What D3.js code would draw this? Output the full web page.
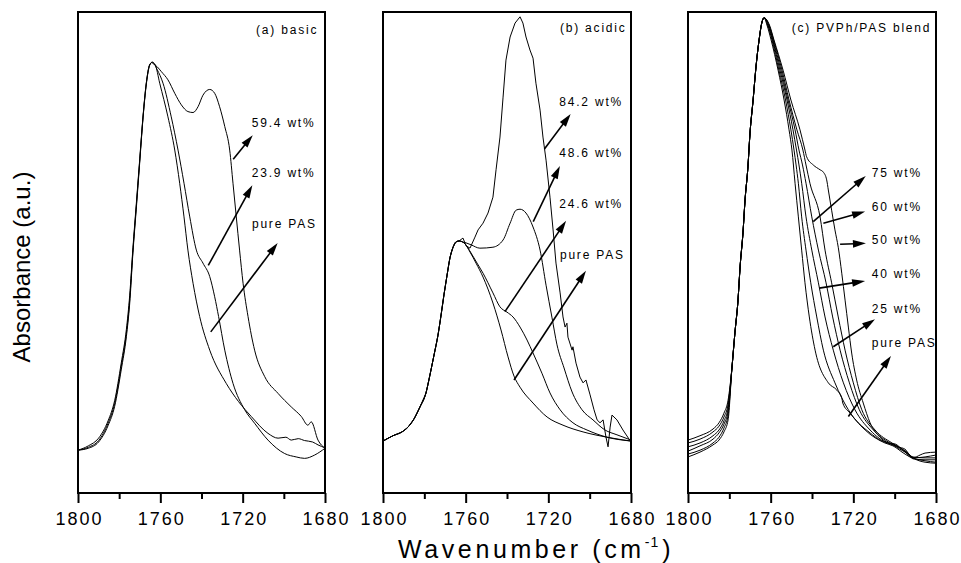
<!DOCTYPE html>
<html lang="en">
<head>
<meta charset="UTF-8">
<title>FTIR carbonyl region</title>
<script src="https://d3js.org/d3.v7.min.js"></script>
<style>
  body { margin: 0; background: #fff; }
  svg { display: block; font-family: "Liberation Sans", Arial, sans-serif; }
  .frame { fill: none; stroke: #000; stroke-width: 2; }
  .spec { fill: none; stroke: #000; stroke-width: 1; }
  .axis line { stroke: #000; stroke-width: 2; }
  .axis text { font-size: 18px; letter-spacing: 2px; fill: #000; font-family: "Liberation Sans", Arial, sans-serif; }
  .note { font-size: 12px; letter-spacing: 1.8px; fill: #000; }
  .arrow { stroke: #000; stroke-width: 1.6; }
</style>
</head>
<body>
<svg width="961" height="563"></svg>
<script>
// wavenumber ticks
const wnTicks = [1800, 1760, 1720, 1680];
const wnMinor = [1780, 1740, 1700];

const panelTitles = ["(a) basic", "(b) acidic", "(c) PVPh/PAS blend"];
const aNotes = ["59.4 wt%", "23.9 wt%", "pure PAS"];
const bNotes = ["84.2 wt%", "48.6 wt%", "24.6 wt%", "pure PAS"];
const cNotes = ["75 wt%", "60 wt%", "50 wt%", "40 wt%", "25 wt%", "pure PAS"];

// (a) basic  [wavenumber, absorbance a.u.]
const aPure = [[1800,8.9],[1795,9.8],[1790,11.4],[1785.4,15.0],[1782.2,19.2],[1779,27.0],[1776.5,34.0],[1774.9,41.0],[1773.3,51.0],[1771.7,60.0],[1770,69.5],[1768.4,78.4],[1766.8,85.3],[1765.2,89.0],[1764,89.5],[1762.5,89.0],[1760.3,85.2],[1756.3,78.2],[1753,71.3],[1750.6,64.4],[1748.5,57.4],[1746.6,50.5],[1744.1,43.6],[1740.9,36.7],[1736,29.7],[1728,22.8],[1722,19.0],[1715.8,15.9],[1707.7,12.4],[1702.8,11.4],[1699,11.6],[1696.4,11.0],[1693,11.3],[1689.9,10.9],[1686,10.6],[1683.4,10.0],[1680,9.4]];
const a239 = [[1800,8.9],[1795,9.5],[1790,10.9],[1785.4,14.5],[1782.2,18.6],[1779,26.3],[1776.5,33.2],[1774.9,40.1],[1773.3,50.5],[1771.7,59.5],[1770,69.2],[1768.4,78.2],[1766.8,85.2],[1765.2,89.0],[1763.8,89.6],[1761.5,88.0],[1758.7,85.2],[1754.7,78.2],[1751.4,71.3],[1748.5,64.4],[1745.7,57.4],[1742.5,50.5],[1739.3,47.8],[1736,45.0],[1733.6,40.8],[1731.7,36.7],[1728.7,29.7],[1724.7,22.8],[1719,17.3],[1714.2,14.5],[1707.7,11.0],[1699.6,8.2],[1694,7.5],[1689.9,7.2],[1685,7.9],[1680,9.3]];
const a594 = [[1800,8.9],[1795,9.3],[1790,10.6],[1785.4,14.0],[1782.2,18.0],[1779,25.6],[1776.5,32.5],[1774.9,39.3],[1773.3,50.0],[1771.7,59.0],[1770,68.8],[1768.4,78.0],[1766.8,85.0],[1765.2,88.9],[1764.2,89.5],[1763.6,89.3],[1761.5,88.6],[1759.5,87.6],[1756.3,85.9],[1753,83.1],[1749.8,80.7],[1746.6,79.3],[1744.1,79.1],[1741.7,80.3],[1739.3,82.7],[1736,83.9],[1733.6,83.1],[1731.2,80.3],[1728.7,76.2],[1726.3,71.3],[1724.7,64.4],[1723.1,57.4],[1721.5,50.5],[1719.8,43.6],[1717.4,36.7],[1714.2,29.7],[1709.3,24.2],[1702.8,20.7],[1696.4,17.9],[1691.5,15.9],[1688.3,14.1],[1686.7,14.8],[1683.4,11.0],[1680,9.3]];

// (b) acidic
const bRise = [[1800,10.8],[1795.2,11.9],[1790.8,12.7],[1787.9,13.7],[1785,15.4],[1782.1,17.9],[1779.2,20.8],[1777.3,24.5],[1775.3,28.7],[1773.4,32.8],[1771.9,37.0],[1770.5,41.2],[1769,45.3],[1767.6,48.9],[1766.1,51.1],[1764.7,52.2],[1763.2,52.4]];
const bPure = [[1760.8,52.0],[1757.9,50.1],[1755,47.8],[1751.6,44.9],[1746.8,39.5],[1742.9,33.9],[1739.5,28.3],[1736.6,24.3],[1733.7,22.0],[1727.4,18.7],[1720.6,15.8],[1712.9,14.1],[1703.2,12.7],[1691.6,11.6],[1680,10.8]];
const b246 = [[1760.3,51.8],[1757.4,49.9],[1754.5,47.8],[1751.6,45.7],[1746.8,41.6],[1743.4,38.7],[1740,37.6],[1737.1,36.6],[1733.7,34.5],[1730.3,31.8],[1727.4,29.1],[1723.1,24.9],[1719.2,20.8],[1714.3,17.3],[1708.1,14.6],[1701.3,13.1],[1691.6,11.6],[1680,10.8]];
const b486 = [[1761.5,52.2],[1759.8,52.0],[1757.4,51.6],[1753.1,50.9],[1746.8,51.1],[1741.9,52.6],[1738.5,56.1],[1735.6,58.8],[1733.7,59.0],[1730.8,58.2],[1727.4,55.3],[1724,50.5],[1721.1,43.2],[1718.2,36.4],[1715.8,30.8],[1712.4,26.0],[1708.5,21.0],[1703.7,17.3],[1698.4,15.2],[1692.6,13.1],[1686.8,12.1],[1680,11.0]];
const b842 = [[1761.3,53.0],[1759.8,51.4],[1757.9,50.9],[1755.5,53.2],[1754,54.7],[1751.6,56.1],[1749.2,58.2],[1746.8,61.5],[1745.3,67.2],[1743.4,74.0],[1741.9,82.3],[1740.5,90.0],[1738.5,94.8],[1736.1,97.7],[1733.7,99.0],[1732.3,97.7],[1730.8,94.8],[1728.9,92.1],[1727.4,90.4],[1726,85.2],[1724,79.6],[1722.6,74.0],[1721.1,69.2],[1719.2,61.5],[1717.7,54.7],[1716.3,47.8],[1714.3,41.6],[1712.9,36.6],[1711.9,34.5],[1711,35.3],[1710.5,32.4],[1708.5,29.7],[1708.1,30.4],[1706.6,27.0],[1704.7,24.1],[1703.2,22.9],[1701.8,23.5],[1699.8,20.4],[1697.9,17.3],[1696.4,15.2],[1695,14.6],[1693.5,15.2],[1692.1,11.6],[1691.1,9.6],[1690.1,13.7],[1689.2,16.2],[1686.8,15.2],[1683.9,13.1],[1680,10.6]];

// (c) PVPh/PAS blend
const cRise = [[1778.7,26.2],[1777.3,33.3],[1775.8,40.1],[1774.8,47.0],[1773.4,54.1],[1772.4,60.9],[1771,67.8],[1770,74.8],[1768.5,81.7],[1767.1,88.6],[1765.6,94.2],[1764.2,97.9],[1763.2,98.8]];
const cBase50 = [[1800,11.0],[1794.2,11.9],[1787.9,13.3],[1785,14.6],[1782.6,16.6],[1780.6,19.3]];
const cBase60 = [[1800,10.4],[1794.2,11.2],[1787.9,12.7],[1785,13.9],[1782.6,15.8],[1780.6,18.5]];
const cBase75 = [[1800,9.6],[1794.2,10.4],[1787.9,11.9],[1785,13.1],[1782.6,15.0],[1780.6,17.7]];
const cBase40 = [[1800,8.7],[1794.2,9.8],[1787.9,11.2],[1785,12.5],[1782.6,14.3],[1780.6,17.0]];
const cBase25 = [[1800,8.1],[1794.2,8.9],[1787.9,10.4],[1785,11.6],[1782.6,13.5],[1780.6,16.2]];
const cBasePure = [[1800,7.5],[1794.2,8.5],[1787.9,10.0],[1785,11.0],[1782.6,12.7],[1780.6,15.2]];
const cTail50 = [[1760.6,97.3],[1758.4,94.2],[1754,87.9],[1750.2,81.7],[1745.8,75.5],[1743.4,71.3],[1742.6,69.9],[1739.4,68.2],[1736.1,67.2],[1734.5,66.7],[1732.9,65.1],[1732.1,63.0],[1730.5,58.8],[1728.9,54.7],[1727.3,51.1],[1725.6,45.7],[1724.0,40.1],[1722.4,34.5],[1720.8,29.1],[1718.4,23.5],[1715.2,18.7],[1711.9,14.6],[1707.1,11.6],[1703.2,10.4],[1699.3,9.8],[1695.0,8.7],[1691.1,7.3],[1685.3,6.4],[1680,6.2]];
const cTail60 = [[1760.8,97.3],[1758.6,94.2],[1754.5,87.9],[1751.1,81.7],[1747.3,75.5],[1744.4,71.3],[1742.9,68.2],[1741.0,64.4],[1736.1,57.4],[1733.7,50.5],[1730.5,43.7],[1727.3,36.6],[1724.0,29.7],[1720.0,22.9],[1715.9,17.3],[1709.5,13.1],[1701.3,10.4],[1697.4,9.4],[1694.0,8.5],[1691.1,7.3],[1685.3,6.7],[1680,6.4]];
const cTail75 = [[1761.0,97.3],[1758.9,94.2],[1755.0,87.9],[1751.6,81.7],[1748.2,75.5],[1746.3,71.3],[1744.6,68.2],[1742.9,64.4],[1740.1,57.4],[1736.9,50.5],[1733.2,43.7],[1730.0,36.6],[1726.4,29.7],[1721.9,22.9],[1717.1,17.3],[1710.3,13.1],[1702.3,10.4],[1698.4,9.6],[1695.0,9.1],[1691.1,7.1],[1685.3,6.9],[1680,6.9]];
const cTail40 = [[1761.3,97.3],[1759.1,94.2],[1755.5,87.9],[1752.1,81.7],[1749.2,75.5],[1747.5,71.3],[1746.3,68.2],[1745.0,64.4],[1742.9,57.4],[1740.1,50.5],[1736.9,43.7],[1733.7,36.6],[1729.7,29.7],[1724.8,22.9],[1719.2,17.3],[1711.9,13.1],[1703.2,10.4],[1699.8,10.2],[1696.0,8.9],[1691.1,7.5],[1685.3,7.3],[1680,7.3]];
const cTail25 = [[1761.5,97.3],[1759.4,94.2],[1756.0,87.9],[1752.8,81.7],[1750.2,75.5],[1748.7,71.3],[1747.7,68.2],[1746.6,64.4],[1745.0,57.4],[1742.9,50.5],[1740.6,43.7],[1737.7,36.6],[1734.5,29.7],[1728.9,22.9],[1722.4,17.3],[1714.3,13.1],[1704.7,10.4],[1700.8,9.8],[1695.0,8.1],[1691.1,7.3],[1685.3,7.5],[1680,7.9]];
const cTailPure = [[1761.8,97.3],[1759.8,94.2],[1756.4,87.9],[1753.5,81.7],[1751.1,75.5],[1749.7,71.3],[1748.2,64.4],[1746.6,57.4],[1745.0,50.5],[1743.4,43.7],[1741.3,36.6],[1738.5,29.7],[1732.1,22.9],[1728.0,21.4],[1725.6,19.8],[1725.1,18.7],[1721.6,16.6],[1717.6,14.6],[1711.9,12.5],[1707.1,11.0],[1700.8,10.0],[1697.4,9.1],[1695.0,8.5],[1691.1,7.3],[1687.7,7.9],[1685.3,8.3],[1680,8.5]];

const svg = d3.select('svg');
const plotTop = 12, plotBottom = 493;

const panels = [
  { left: 78, right: 325, title: panelTitles[0], titleAt: [1713.5, 95.4],
    series: [aPure, a239, a594].map(s => ({ pts: s, smooth: true })),
    notes: aNotes, noteAt: [[1715.6, 76.1], [1715.6, 65.7], [1715.5, 55.1]],
    arrows: [[1724.6, 69.4, 1715.1, 74.4], [1736.7, 47.3, 1715.3, 64.0], [1735.5, 33.5, 1703.0, 52.0]] },
  { left: 383, right: 631, title: panelTitles[1], titleAt: [1714.4, 95.8],
    series: [
      { pts: bRise.concat(bPure), smooth: true },
      { pts: bRise.concat(b246), smooth: true },
      { pts: bRise.concat(b486), smooth: true },
      { pts: bRise.concat(b842), smooth: false }
    ],
    notes: bNotes, noteAt: [[1714.7, 80.5], [1714.7, 69.8], [1714.7, 59.2], [1714.4, 48.6]],
    arrows: [[1721.9, 71.5, 1709.2, 78.8], [1727.3, 56.4, 1714.4, 68.0], [1741.0, 37.7, 1711.4, 56.6], [1736.6, 23.5, 1701.8, 46.2]] },
  { left: 688, right: 936, title: panelTitles[2], titleAt: [1749.8, 95.9],
    series: [
      [cBase50, cTail50], [cBase60, cTail60], [cBase75, cTail75],
      [cBase40, cTail40], [cBase25, cTail25], [cBasePure, cTailPure]
    ].map(([b, t]) => ({ pts: b.concat(cRise, t), smooth: true })),
    notes: cNotes, noteAt: [[1711.1, 65.8], [1711.1, 58.6], [1711.1, 51.7], [1711.1, 44.6], [1711.1, 37.5], [1711.1, 30.3]],
    arrows: [[1739.4, 56.4, 1714.0, 65.9], [1734.5, 56.1, 1714.3, 58.5], [1726.4, 51.7, 1713.9, 51.9],
             [1736.5, 42.6, 1714.3, 44.1], [1729.7, 30.4, 1709.5, 36.1], [1722.4, 15.9, 1701.8, 28.5]] }
];

panels.forEach(p => {
  const x = d3.scaleLinear().domain([1800, 1680]).range([p.left, p.right]);
  const y = d3.scaleLinear().domain([0, 100]).range([plotBottom, plotTop]);
  const g = svg.append('g');

  // spectra
  p.series.forEach(s => {
    const line = d3.line().x(d => x(d[0])).y(d => y(d[1]))
      .curve(s.smooth ? d3.curveMonotoneX : d3.curveLinear);
    g.append('path').attr('class', 'spec').attr('d', line(s.pts));
  });

  // axes
  g.append('g').attr('class', 'axis')
    .attr('transform', `translate(0,${plotBottom})`)
    .call(d3.axisBottom(x).tickValues(wnMinor).tickSize(6).tickFormat(''))
    .call(a => a.select('.domain').remove());
  g.append('g').attr('class', 'axis')
    .attr('transform', `translate(0,${plotBottom})`)
    .call(d3.axisBottom(x).tickValues(wnTicks).tickSize(10).tickPadding(9).tickFormat(d3.format('d')))
    .call(a => a.select('.domain').remove())
    .call(a => a.selectAll('text').attr('dx', 1));

  g.append('rect').attr('class', 'frame')
    .attr('x', p.left).attr('y', plotTop)
    .attr('width', p.right - p.left).attr('height', plotBottom - plotTop);

  // annotations
  g.append('text').attr('class', 'note')
    .attr('x', x(p.titleAt[0])).attr('y', y(p.titleAt[1])).text(p.title);
  p.notes.forEach((t, i) => {
    g.append('text').attr('class', 'note')
      .attr('x', x(p.noteAt[i][0])).attr('y', y(p.noteAt[i][1])).text(t);
  });
  p.arrows.forEach(a => {
    const x1 = x(a[0]), y1 = y(a[1]), x2 = x(a[2]), y2 = y(a[3]);
    const ang = Math.atan2(y2 - y1, x2 - x1);
    const L = 13, W = 3.8;
    const ux = Math.cos(ang), uy = Math.sin(ang);
    const bx = x2 - L * ux, by = y2 - L * uy;
    g.append('line').attr('class', 'arrow')
      .attr('x1', x1).attr('y1', y1).attr('x2', bx + 2 * ux).attr('y2', by + 2 * uy);
    g.append('polygon')
      .attr('points', [[x2, y2], [bx - W * uy, by + W * ux], [bx + W * uy, by - W * ux]].map(q => q.join(',')).join(' '))
      .attr('fill', '#000');
  });
});

// axis titles
const xt = svg.append('text')
  .attr('x', 398).attr('y', 558)
  .style('font-size', '25px').style('letter-spacing', '3.6px');
xt.append('tspan').text('Wavenumber (cm');
xt.append('tspan').attr('dy', -11).style('font-size', '14px').style('letter-spacing', '1px').text('-1');
xt.append('tspan').attr('dy', 11).attr('dx', 3).text(')');

svg.append('text')
  .attr('transform', 'translate(30,267) rotate(-90)')
  .attr('text-anchor', 'middle')
  .style('font-size', '24px')
  .text('Absorbance (a.u.)');
</script>
</body>
</html>
